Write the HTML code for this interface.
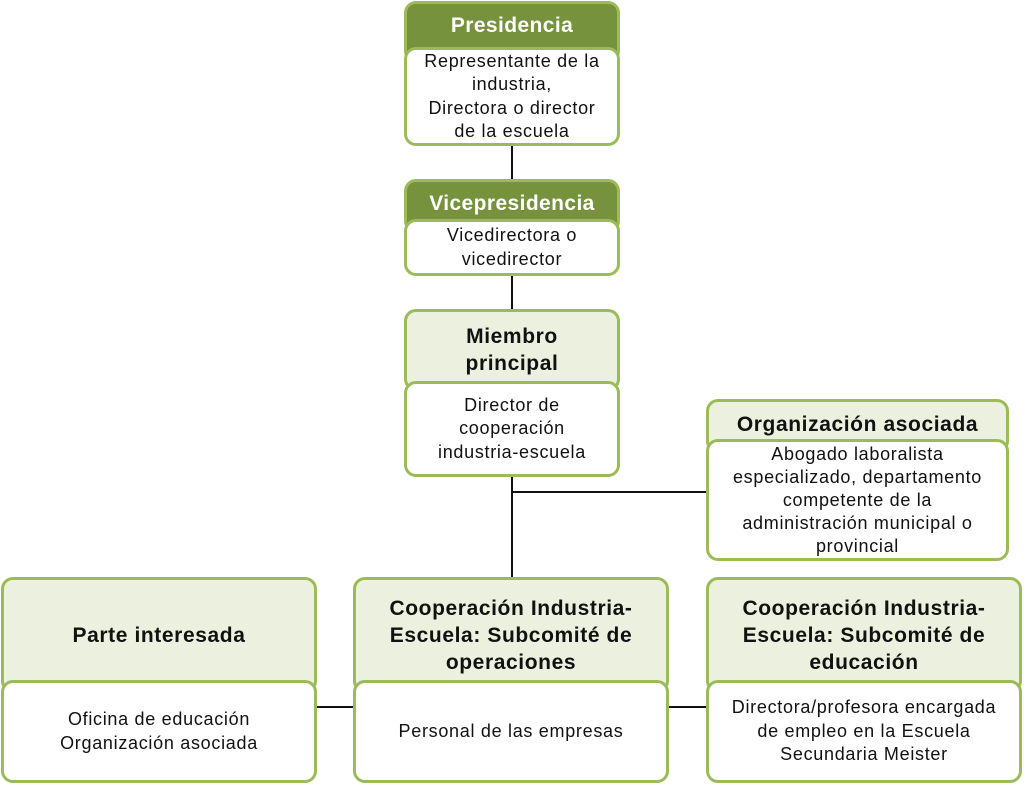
<!DOCTYPE html>
<html><head><meta charset="utf-8"><style>
body{margin:0;width:1024px;height:785px;background:#fff;position:relative;font-family:"Liberation Sans","NanumGothic",sans-serif;overflow:hidden}
.b{position:absolute;box-sizing:border-box;border:3px solid #9bbb59;border-radius:12px;display:flex;align-items:center;justify-content:center;text-align:center;color:#111;white-space:nowrap}
.hd{background:#76923c;color:#fff;font-weight:bold;font-size:21px;letter-spacing:0.4px;align-items:flex-start;padding-top:10px}
.hl{background:#ebf1de;font-weight:bold;font-size:21px;letter-spacing:0.6px;line-height:27px}
.bd{background:#fff;font-size:18px;letter-spacing:0.7px;line-height:23.5px}
.l{position:absolute;background:#111}
</style></head><body>
<div class="l" style="left:511px;top:140px;width:2px;height:45px"></div>
<div class="l" style="left:511px;top:270px;width:2px;height:45px"></div>
<div class="l" style="left:511px;top:470px;width:2px;height:112px"></div>
<div class="l" style="left:512px;top:491px;width:196px;height:2px"></div>
<div class="l" style="left:312px;top:706px;width:46px;height:2px"></div>
<div class="l" style="left:664px;top:706px;width:46px;height:2px"></div>

<div class="b hd" style="left:404px;top:1px;width:216px;height:62px">Presidencia</div>
<div class="b bd" style="left:404px;top:47px;width:216px;height:99px">Representante de la<br>industria,<br>Directora o director<br>de la escuela</div>

<div class="b hd" style="left:404px;top:179px;width:216px;height:54px;padding-top:10px">Vicepresidencia</div>
<div class="b bd" style="left:404px;top:219px;width:216px;height:57px">Vicedirectora o<br>vicedirector</div>

<div class="b hl" style="left:404px;top:309px;width:216px;height:82px;align-items:flex-start;padding-top:11px">Miembro<br>principal</div>
<div class="b bd" style="left:404px;top:381px;width:216px;height:96px">Director de<br>cooperación<br>industria-escuela</div>

<div class="b hl" style="left:706px;top:399px;width:303px;height:54px;align-items:flex-start;padding-top:9px">Organización asociada</div>
<div class="b bd" style="left:706px;top:439px;width:303px;height:122px;line-height:23px">Abogado laboralista<br>especializado, departamento<br>competente de la<br>administración municipal o<br>provincial</div>

<div class="b hl" style="left:1px;top:577px;width:316px;height:116px;align-items:flex-start;padding-top:42px">Parte interesada</div>
<div class="b bd" style="left:1px;top:680px;width:316px;height:103px">Oficina de educación<br>Organización asociada</div>

<div class="b hl" style="left:353px;top:577px;width:316px;height:116px;align-items:flex-start;padding-top:15px">Cooperación Industria-<br>Escuela: Subcomité de<br>operaciones</div>
<div class="b bd" style="left:353px;top:680px;width:316px;height:103px">Personal de las empresas</div>

<div class="b hl" style="left:706px;top:577px;width:316px;height:116px;align-items:flex-start;padding-top:15px">Cooperación Industria-<br>Escuela: Subcomité de<br>educación</div>
<div class="b bd" style="left:706px;top:680px;width:316px;height:103px">Directora/profesora encargada<br>de empleo en la Escuela<br>Secundaria Meister</div>
</body></html>
